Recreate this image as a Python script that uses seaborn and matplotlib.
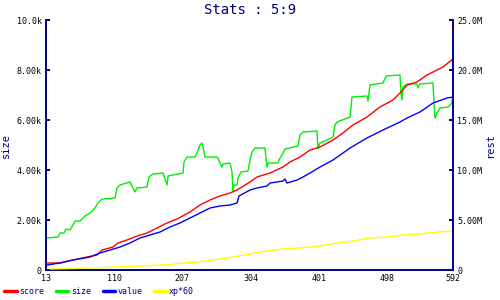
import matplotlib
matplotlib.use("Agg")
import matplotlib.pyplot as plt
import seaborn as sns
import pandas as pd
from matplotlib.lines import Line2D

# ---- data ----
size_x = [14.4, 30.1, 32.9, 38.6, 41.5, 47.1, 51.4, 54.3, 61.4, 68.5, 75.6, 82.7, 87.0, 92.7,
          111.2, 114.0, 118.3, 132.5, 139.6, 142.5, 156.7, 159.5, 165.2, 179.4, 185.1, 186.6,
          207.9, 209.3, 213.6, 225.0, 227.8, 232.1, 234.9, 236.3, 239.2, 256.3, 257.7, 260.5,
          263.4, 264.8, 274.8, 277.6, 279.0, 280.5, 284.7, 286.1, 290.4, 300.4, 303.2, 306.1,
          310.3, 324.5, 327.4, 328.8, 343.0, 345.9, 350.2, 353.0, 371.5, 374.3, 378.6, 398.5,
          399.9, 402.8, 412.7, 421.3, 424.1, 426.9, 445.5, 448.3, 469.6, 471.1, 473.9, 492.4,
          496.7, 516.6, 518.0, 519.4, 520.9, 526.6, 540.8, 542.2, 545.0, 563.5, 565.0, 566.4,
          569.2, 573.5, 584.9, 590.6, 592.0]
size_v = [1280, 1320, 1480, 1480, 1640, 1600, 1800, 1960, 1960, 2160, 2280, 2480, 2680, 2840,
          2880, 3280, 3400, 3520, 3120, 3280, 3320, 3720, 3840, 3880, 3400, 3760,
          3880, 4320, 4520, 4520, 4680, 5000, 5080, 4920, 4520, 4520, 4480, 4280,
          4120, 4240, 4280, 3920, 3120, 3400, 3400, 3680, 3920, 3960, 4400, 4720,
          4880, 4880, 4120, 4280, 4280, 4480, 4680, 4840, 4960, 5400, 5520, 5560,
          4840, 5080, 5200, 5320, 5800, 5920, 6120, 6920, 6960, 6760, 7400, 7480,
          7760, 7800, 7080, 6800, 7320, 7440, 7440, 7280, 7440, 7480, 6680, 6080,
          6280, 6480, 6520, 6680, 7200]

score_x = [14.4, 32.9, 51.4, 71.3, 85.6, 92.7, 108.3, 115.4, 128.2, 142.5, 156.7, 170.9,
           185.1, 199.4, 217.9, 232.1, 246.3, 260.5, 274.8, 284.7, 303.2, 313.2, 331.7,
           350.2, 360.1, 374.3, 388.6, 402.8, 421.3, 435.5, 449.7, 469.6, 488.1, 506.6,
           516.6, 526.6, 540.8, 555.0, 563.5, 577.7, 592.0]
score_v = [0.7, 0.7, 1.0, 1.3, 1.5, 2.0, 2.3, 2.7, 3.0, 3.4, 3.7, 4.2,
           4.7, 5.1, 5.8, 6.5, 7.0, 7.4, 7.7, 8.0, 8.8, 9.3, 9.7,
           10.3, 10.8, 11.3, 12.0, 12.3, 13.0, 13.7, 14.5, 15.3, 16.3, 17.0,
           17.7, 18.5, 18.8, 19.5, 19.8, 20.3, 21.1]

value_x = [14.4, 32.9, 51.4, 75.6, 89.8, 104.0, 118.3, 132.5, 146.7, 161.0, 175.2, 189.4,
           203.6, 217.9, 232.1, 246.3, 260.5, 274.8, 284.7, 287.6, 303.2, 313.2, 327.4,
           331.7, 350.2, 353.0, 355.8, 370.1, 378.6, 388.6, 402.8, 421.3, 445.5, 469.6,
           492.4, 516.6, 526.6, 545.0, 563.5, 583.5, 592.0]
value_v = [0.5, 0.7, 1.0, 1.3, 1.7, 2.0, 2.3, 2.7, 3.2, 3.5, 3.8, 4.3,
           4.7, 5.2, 5.7, 6.2, 6.4, 6.5, 6.7, 7.4, 8.0, 8.2, 8.4,
           8.7, 8.9, 9.1, 8.7, 9.0, 9.3, 9.7, 10.3, 11.0, 12.2, 13.2,
           14.0, 14.8, 15.2, 15.8, 16.7, 17.2, 17.3]

xp_x = [18.7, 82.7, 114.0, 142.5, 179.4, 207.9, 242.0, 270.4, 303.2, 317.4, 350.2, 374.3,
        402.8, 426.9, 449.7, 473.9, 498.1, 520.9, 545.0, 569.2, 590.6]
xp_v = [0.1, 0.2, 0.3, 0.4, 0.5, 0.7, 0.9, 1.2, 1.6, 1.8, 2.1, 2.2,
        2.4, 2.7, 2.9, 3.2, 3.3, 3.5, 3.6, 3.8, 3.9]

x_ticks = [13, 110, 207, 304, 401, 498, 592]
left_ticks = [0, 2000, 4000, 6000, 8000, 10000]
left_labels = ["0", "2.00k", "4.00k", "6.00k", "8.00k", "10.0k"]
right_ticks = [0, 5, 10, 15, 20, 25]
right_labels = ["0", "5.00M", "10.0M", "15.0M", "20.0M", "25.0M"]

series_names = ["score", "size", "value", "xp*60"]
series_colors = ["#ff0000", "#00ee00", "#0000ff", "#ffff00"]

# ---- style ----
sns.set_style("white")
plt.rcParams["font.family"] = ["DejaVu Sans Mono", "DejaVu Sans"]
navy = "#000080"

fig = plt.figure(figsize=(5, 3), dpi=100)
ax = fig.add_axes([46 / 500, 30 / 300, 407 / 500, 250 / 300])
ax2 = ax.twinx()

sns.lineplot(data=pd.DataFrame({"x": size_x, "y": size_v}), x="x", y="y", ax=ax,
             color=series_colors[1], lw=1.0, estimator=None, sort=False)
sns.lineplot(data=pd.DataFrame({"x": score_x, "y": score_v}), x="x", y="y", ax=ax2,
             color=series_colors[0], lw=1.0, estimator=None, sort=False)
sns.lineplot(data=pd.DataFrame({"x": value_x, "y": value_v}), x="x", y="y", ax=ax2,
             color=series_colors[2], lw=1.0, estimator=None, sort=False)
sns.lineplot(data=pd.DataFrame({"x": xp_x, "y": xp_v}), x="x", y="y", ax=ax2,
             color=series_colors[3], lw=1.0, estimator=None, sort=False)

ax.set_xlim(13, 592)
ax.set_ylim(0, 10000)
ax2.set_ylim(0, 25)
ax.set_xticks(x_ticks)
ax.set_xticklabels([str(t) for t in x_ticks])
ax.set_yticks(left_ticks)
ax.set_yticklabels(left_labels)
ax2.set_yticks(right_ticks)
ax2.set_yticklabels(right_labels)

for a in (ax, ax2):
    a.grid(False)
    a.set_facecolor("none")
    for s in a.spines.values():
        s.set_color(navy)
        s.set_linewidth(1.4)
    a.spines["top"].set_visible(False)
    a.tick_params(direction="in", length=3, width=1.4, color=navy,
                  labelsize=6, labelcolor="black", pad=3)
ax.spines["right"].set_visible(False)
ax2.spines["left"].set_visible(False)
ax2.spines["bottom"].set_visible(False)

ax.set_xlabel("")
ax.set_ylabel("size", color=navy, fontsize=7.5, labelpad=4)
ax2.set_ylabel("rest", color=navy, fontsize=7.5, labelpad=2)

fig.text(0.5, 1 - 10 / 300, "Stats : 5:9", ha="center", va="center",
         color=navy, fontsize=10)

handles = [Line2D([0], [0], color=c, lw=2.5) for c in series_colors]
leg = fig.legend(handles, series_names, loc="lower left", bbox_to_anchor=(0.0, 0.0),
                 borderaxespad=0.3, borderpad=0.2,
                 ncol=4, frameon=False, fontsize=6, handlelength=1.5,
                 handletextpad=0.3, columnspacing=1.4)
for t in leg.get_texts():
    t.set_color(navy)

fig.savefig("out.png", dpi=100)
